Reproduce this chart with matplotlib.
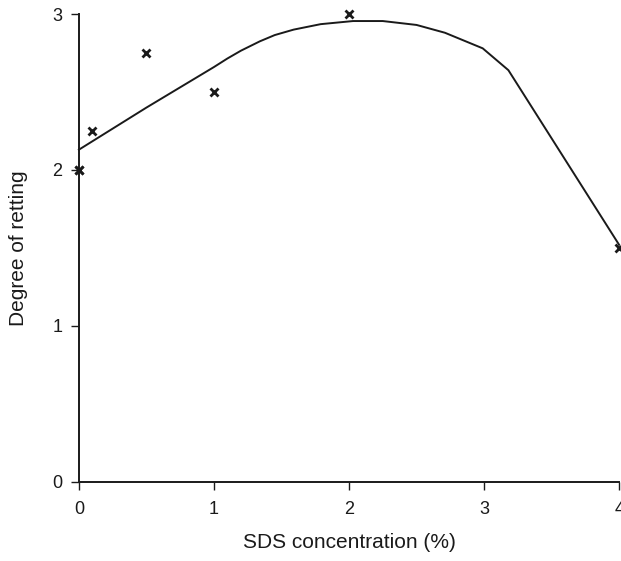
import matplotlib.pyplot as plt

plt.rcParams['font.family'] = ['Liberation Sans', 'DejaVu Sans']

# measured points
sds_x = [0, 0, 0.1, 0.5, 1.0, 2.0, 4.0]
retting_y = [2.0, 2.0, 2.25, 2.75, 2.5, 3.0, 1.5]

# fitted curve
curve_x = [0, 0.5, 1.0, 1.1, 1.2, 1.34, 1.45, 1.59, 1.79, 2.03, 2.25, 2.5, 2.71, 2.99, 3.18, 4.0]
curve_y = [2.13, 2.40, 2.66, 2.715, 2.765, 2.825, 2.865, 2.90, 2.935, 2.955, 2.955, 2.93, 2.88, 2.78, 2.64, 1.52]

fig = plt.figure(figsize=(6.21, 5.61), dpi=100)
ax = fig.add_axes([0.127, 0.141, 0.870, 0.834])

ax.plot(curve_x, curve_y, color='#1a1a1a', lw=1.4, clip_on=False)
ax.plot(sds_x, retting_y, 'x', color='#1a1a1a', ms=6, mew=2, clip_on=False)

ax.set_xlim(0, 4)
ax.set_ylim(0, 3)
ax.set_xticks([0, 1, 2, 3, 4])
ax.set_yticks([0, 1, 2, 3])

for s in ['top', 'right']:
    ax.spines[s].set_visible(False)
for s in ['left', 'bottom']:
    ax.spines[s].set_linewidth(1.4)
    ax.spines[s].set_color('#1a1a1a')

ax.tick_params(direction='out', length=6, width=1.0, labelsize=13, colors='#1a1a1a', pad=6)
ax.tick_params(axis='x', pad=8)
ax.set_xlabel('SDS concentration (%)', fontsize=15, color='#1a1a1a', va='center')
ax.set_ylabel('Degree of retting', fontsize=15, color='#1a1a1a', va='center')
ax.xaxis.set_label_coords(0.5, -0.130)
ax.yaxis.set_label_coords(-0.112, 0.5)

fig.savefig('out.png', dpi=100)
